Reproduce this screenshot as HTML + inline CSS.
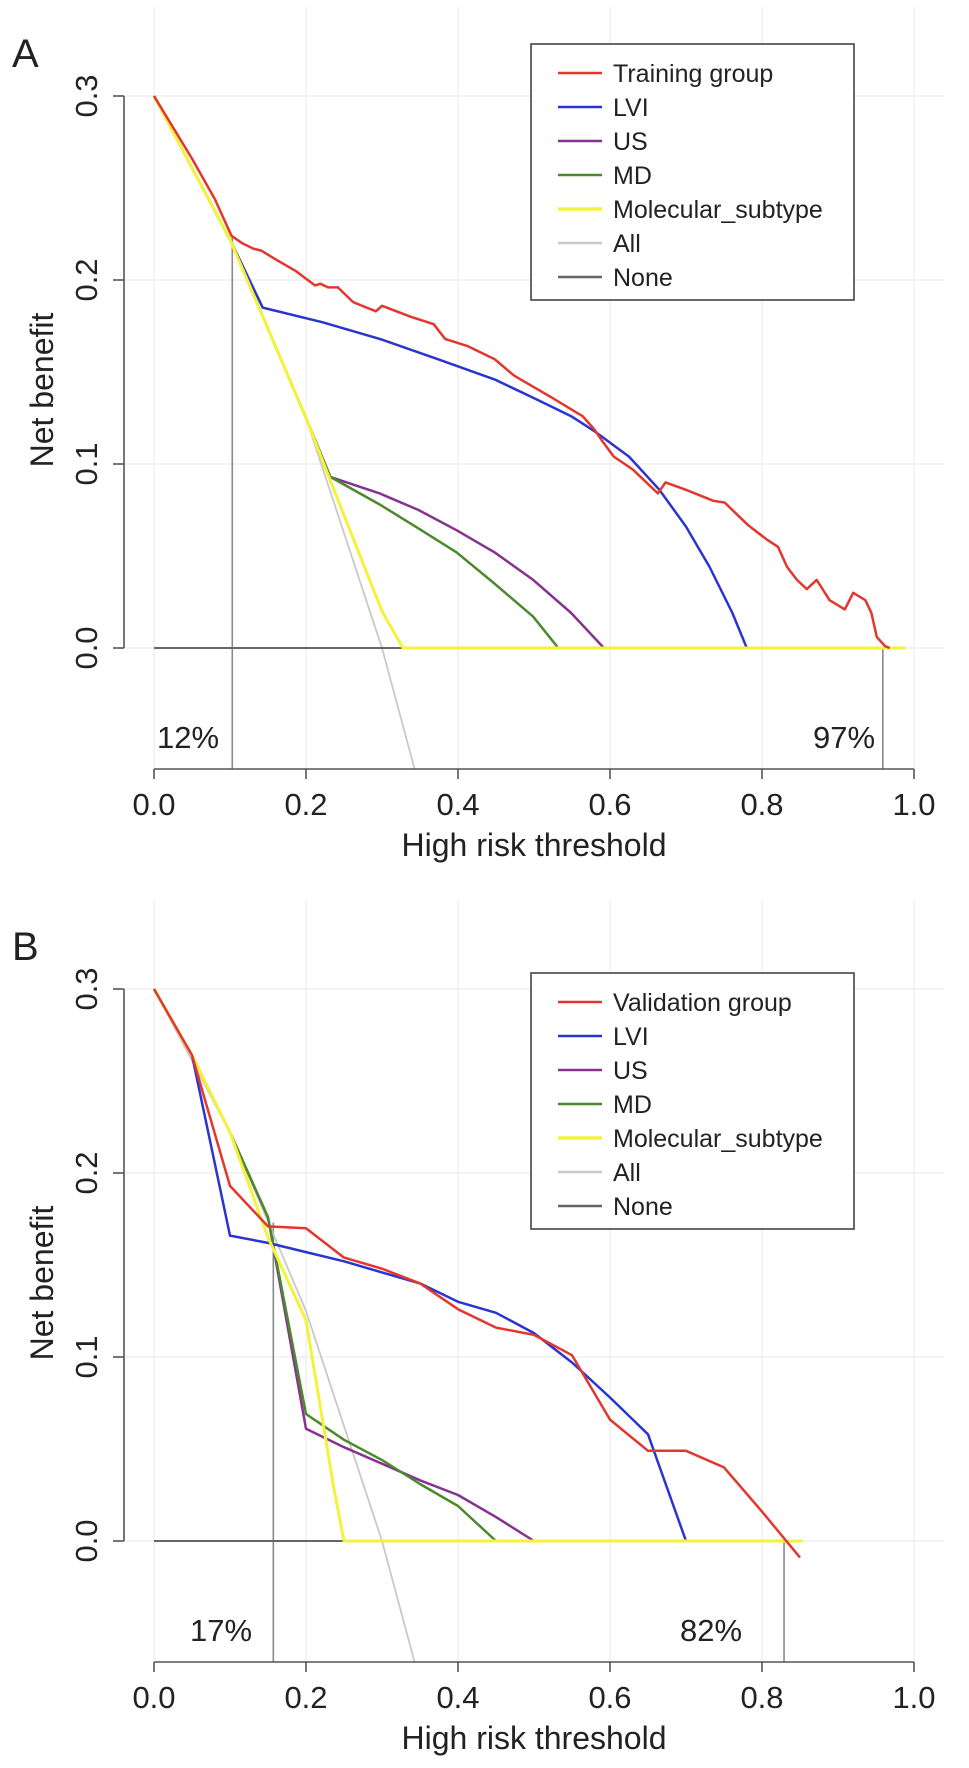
<!DOCTYPE html>
<html><head><meta charset="utf-8">
<style>
html,body{margin:0;padding:0;background:#fff;}
svg{display:block;font-family:"Liberation Sans",Arial,sans-serif;}
</style></head>
<body>
<svg id="chart" width="969" height="1768" viewBox="0 0 969 1768" xmlns="http://www.w3.org/2000/svg"></svg>
<script>
// ---------- Panel A data ----------
const xTicks = [0, 0.2, 0.4, 0.6, 0.8, 1.0];
const xTickLabels = ["0.0", "0.2", "0.4", "0.6", "0.8", "1.0"];
const yTicks = [0, 0.1, 0.2, 0.3];
const yTickLabels = ["0.0", "0.1", "0.2", "0.3"];

const allX = [0, 0.1, 0.2, 0.3, 0.343];
const allY = [0.3, 0.222, 0.125, 0.0, -0.066];

const aRedX = [0, 0.05, 0.08, 0.102, 0.116, 0.131, 0.141, 0.161, 0.186, 0.212, 0.219, 0.229, 0.242, 0.262, 0.292, 0.300, 0.338, 0.368, 0.383, 0.413, 0.448, 0.474, 0.524, 0.564, 0.579, 0.589, 0.605, 0.630, 0.663, 0.673, 0.700, 0.736, 0.751, 0.766, 0.781, 0.806, 0.821, 0.833, 0.846, 0.859, 0.872, 0.889, 0.909, 0.920, 0.936, 0.944, 0.951, 0.962, 0.968];
const aRedY = [0.3, 0.266, 0.244, 0.224, 0.220, 0.217, 0.216, 0.211, 0.205, 0.197, 0.198, 0.196, 0.196, 0.188, 0.183, 0.186, 0.180, 0.176, 0.168, 0.164, 0.157, 0.148, 0.136, 0.126, 0.119, 0.113, 0.104, 0.097, 0.084, 0.090, 0.086, 0.080, 0.079, 0.073, 0.067, 0.059, 0.055, 0.044, 0.037, 0.032, 0.037, 0.026, 0.021, 0.030, 0.026, 0.019, 0.006, 0.001, 0];
const aLviX = [0, 0.1, 0.143, 0.222, 0.297, 0.373, 0.448, 0.499, 0.549, 0.579, 0.625, 0.665, 0.700, 0.731, 0.761, 0.780];
const aLviY = [0.3, 0.222, 0.185, 0.177, 0.168, 0.157, 0.146, 0.136, 0.126, 0.118, 0.104, 0.086, 0.066, 0.044, 0.019, 0];
const aUsX = [0, 0.1, 0.2, 0.232, 0.297, 0.348, 0.398, 0.448, 0.499, 0.549, 0.592];
const aUsY = [0.3, 0.222, 0.125, 0.093, 0.084, 0.075, 0.064, 0.052, 0.037, 0.019, 0];
const aMdX = [0, 0.1, 0.2, 0.232, 0.297, 0.348, 0.398, 0.448, 0.499, 0.532];
const aMdY = [0.3, 0.222, 0.125, 0.093, 0.078, 0.065, 0.052, 0.035, 0.017, 0];
const aMolX = [0, 0.1, 0.2, 0.232, 0.30, 0.3275, 0.988];
const aMolY = [0.3, 0.222, 0.125, 0.091, 0.020, 0, 0];
const aNoneX = [0, 0.988];
const aNoneY = [0, 0];
const aThresholds = [0.103, 0.959];
const aThresholdTops = [0.224, 0];
const aThresholdLabels = ["12%", "97%"];

// ---------- Panel B data ----------
const bRedX = [0, 0.05, 0.1, 0.15, 0.2, 0.25, 0.3, 0.35, 0.4, 0.45, 0.5, 0.55, 0.6, 0.65, 0.7, 0.75, 0.8, 0.85];
const bRedY = [0.3, 0.264, 0.193, 0.171, 0.170, 0.154, 0.148, 0.140, 0.126, 0.116, 0.112, 0.101, 0.066, 0.049, 0.049, 0.040, 0.016, -0.009];
const bLviX = [0, 0.05, 0.1, 0.15, 0.2, 0.25, 0.3, 0.35, 0.4, 0.45, 0.5, 0.55, 0.6, 0.65, 0.7];
const bLviY = [0.3, 0.264, 0.166, 0.162, 0.157, 0.152, 0.146, 0.140, 0.130, 0.124, 0.113, 0.097, 0.078, 0.058, 0];
const bUsX = [0, 0.05, 0.1, 0.15, 0.2, 0.25, 0.3, 0.35, 0.4, 0.45, 0.5];
const bUsY = [0.3, 0.264, 0.222, 0.176, 0.061, 0.051, 0.042, 0.033, 0.025, 0.013, 0];
const bMdX = [0, 0.05, 0.1, 0.15, 0.2, 0.25, 0.3, 0.35, 0.4, 0.45];
const bMdY = [0.3, 0.264, 0.222, 0.176, 0.069, 0.055, 0.044, 0.031, 0.019, 0];
const bMolX = [0, 0.05, 0.1, 0.15, 0.2, 0.236, 0.25, 0.854];
const bMolY = [0.3, 0.264, 0.222, 0.165, 0.120, 0.030, 0, 0];
const bNoneX = [0, 0.854];
const bNoneY = [0, 0];
const bThresholds = [0.157, 0.829];
const bThresholdTops = [0.173, 0];
const bThresholdLabels = ["17%", "82%"];

const legendA = ["Training group", "LVI", "US", "MD", "Molecular_subtype", "All", "None"];
const legendB = ["Validation group", "LVI", "US", "MD", "Molecular_subtype", "All", "None"];

// ---------- drawing ----------
const NS = "http://www.w3.org/2000/svg";
const svg = document.getElementById("chart");
const COLORS = {red:"#e3372e", blue:"#2a35d0", purple:"#86338f", green:"#4a8a2c", yellow:"#f4f23a", all:"#c9c9c9", none:"#666666"};
const legendColors = [COLORS.red, COLORS.blue, COLORS.purple, COLORS.green, COLORS.yellow, COLORS.all, COLORS.none];

function mk(tag, attrs, parent){
  const e = document.createElementNS(NS, tag);
  for (const k in attrs) e.setAttribute(k, attrs[k]);
  (parent || svg).appendChild(e);
  return e;
}

function drawPanel(off, letter, series, thr, thrTop, thrLab, labPos, legendItems, legendTop){
  const xs = v => 154 + v * 760;
  const ys = v => 648 + off - v * 1840;
  const g = mk("g", {});
  
  

  // grid
  xTicks.forEach(t => {
    const l = mk("line", {x1:xs(t), x2:xs(t), y1:7+off, y2:769+off, stroke:"#ececec", "stroke-width":1.2}, g);
    
    
  });
  yTicks.forEach(t => {
    const l = mk("line", {x1:124, x2:944, y1:ys(t), y2:ys(t), stroke:"#ececec", "stroke-width":1.2}, g);
    
    
  });

  // threshold lines
  thr.forEach((t, i) => {
    const l = mk("line", {x1:xs(t), x2:xs(t), y1:ys(thrTop[i]), y2:769+off, stroke:"#8a8a8a", "stroke-width":1.6}, g);
    
    
    const tx = mk("text", {x:labPos[i], y:737+off+11, "font-size":31, fill:"#222", "text-anchor":"middle"}, g);
    tx.textContent = thrLab[i];
    
    
  });

  // series
  series.forEach(s => {
    const pts = s.x.map((v, i) => xs(v).toFixed(1) + "," + ys(s.y[i]).toFixed(1)).join(" ");
    const p = mk("polyline", {points:pts, fill:"none", stroke:s.c, "stroke-width":s.w, "stroke-linejoin":"round"}, g);
    
    
  });

  // axes
  const ya = mk("path", {d:"M124," + ys(0) + "V" + ys(0.3), stroke:"#555", "stroke-width":1.6, fill:"none"}, g);
  
  
  yTicks.forEach((t, i) => {
    mk("line", {x1:113, x2:124, y1:ys(t), y2:ys(t), stroke:"#555", "stroke-width":1.6}, g);
    const tx = mk("text", {x:0, y:0, "font-size":31, fill:"#222", "text-anchor":"middle", transform:"translate(97," + ys(t) + ") rotate(-90)"}, g);
    tx.textContent = yTickLabels[i];
    
    
  });
  const xa = mk("path", {d:"M" + xs(0) + "," + (769+off) + "H" + xs(1), stroke:"#555", "stroke-width":1.6, fill:"none"}, g);
  
  
  xTicks.forEach((t, i) => {
    mk("line", {x1:xs(t), x2:xs(t), y1:769+off, y2:779+off, stroke:"#555", "stroke-width":1.6}, g);
    const tx = mk("text", {x:xs(t), y:815+off, "font-size":31, fill:"#222", "text-anchor":"middle"}, g);
    tx.textContent = xTickLabels[i];
    
    
  });
  const xt = mk("text", {x:534, y:856+off, "font-size":32, fill:"#222", "text-anchor":"middle"}, g);
  xt.textContent = "High risk threshold";
  
  
  const yt = mk("text", {x:0, y:0, "font-size":32, fill:"#222", "text-anchor":"middle", transform:"translate(53," + (390+off) + ") rotate(-90)"}, g);
  yt.textContent = "Net benefit";
  
  
  const pl = mk("text", {x:12, y:67+off, "font-size":40, fill:"#222"}, g);
  pl.textContent = letter;
  
  

  // legend
  const lg = mk("g", {}, g);
  
  
  mk("rect", {x:531, y:legendTop, width:323, height:256, fill:"#fff", stroke:"#444", "stroke-width":1.6}, lg);
  legendItems.forEach((name, i) => {
    const cy = legendTop + 29 + i * 34;
    const e = mk("g", {}, lg);
    
    
    mk("line", {x1:558, x2:602, y1:cy, y2:cy, stroke:legendColors[i], "stroke-width":i===4?3.5:2.5}, e);
    const tx = mk("text", {x:613, y:cy+9, "font-size":25, fill:"#222"}, e);
    tx.textContent = name;
  });
}

drawPanel(0, "A", [
  {x:allX, y:allY, c:COLORS.all, w:1.8, n:"all-line"},
  {x:aNoneX, y:aNoneY, c:COLORS.none, w:2, n:"none-line"},
  {x:aUsX, y:aUsY, c:COLORS.purple, w:2.5, n:"us-line"},
  {x:aMdX, y:aMdY, c:COLORS.green, w:2.5, n:"md-line"},
  {x:aLviX, y:aLviY, c:COLORS.blue, w:2.5, n:"lvi-line"},
  {x:aMolX, y:aMolY, c:COLORS.yellow, w:3, n:"molecular-subtype-line"},
  {x:aRedX, y:aRedY, c:COLORS.red, w:2.5, n:"training-group-line"}
], aThresholds, aThresholdTops, aThresholdLabels, [188, 844], legendA, 44);

drawPanel(893, "B", [
  {x:allX, y:allY, c:COLORS.all, w:1.8, n:"all-line"},
  {x:bNoneX, y:bNoneY, c:COLORS.none, w:2, n:"none-line"},
  {x:bUsX, y:bUsY, c:COLORS.purple, w:2.5, n:"us-line"},
  {x:bMdX, y:bMdY, c:COLORS.green, w:2.5, n:"md-line"},
  {x:bLviX, y:bLviY, c:COLORS.blue, w:2.5, n:"lvi-line"},
  {x:bMolX, y:bMolY, c:COLORS.yellow, w:3, n:"molecular-subtype-line"},
  {x:bRedX, y:bRedY, c:COLORS.red, w:2.5, n:"validation-group-line"}
], bThresholds, bThresholdTops, bThresholdLabels, [221, 711], legendB, 973);
</script>
</body></html>
